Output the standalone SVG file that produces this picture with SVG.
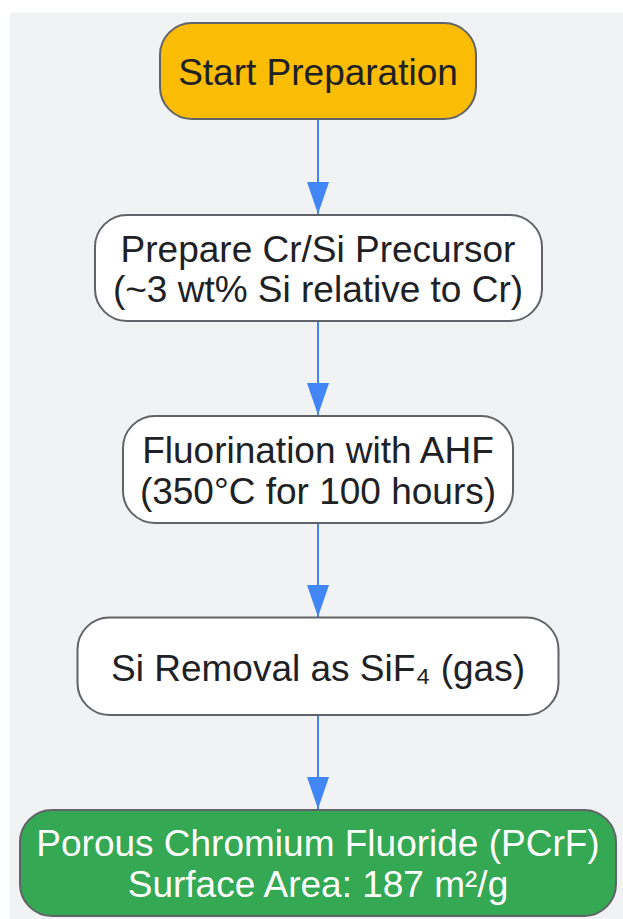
<svg xmlns="http://www.w3.org/2000/svg" width="623" height="919" viewBox="0 0 623 919">
  <style>
    .node rect { stroke: #606368; stroke-width: 2; }
    .plain rect { fill: #ffffff; }
    .lbl { font-family: "Liberation Sans", Arial, sans-serif; font-size: 37px; fill: #202124; text-anchor: middle; }
    .light { fill: #ffffff; }
    .edge { stroke: #4285F4; stroke-width: 2; fill: none; marker-end: url(#arrow); }
  </style>
  <defs>
    <marker id="arrow" viewBox="0 0 32 22" refX="32" refY="11" markerWidth="32" markerHeight="22" markerUnits="userSpaceOnUse" orient="auto">
      <path d="M0,0 L32,11 L0,22 Z" fill="#4285F4"/>
    </marker>
  </defs>
  <rect x="10" y="12.5" width="613" height="906.5" fill="#f1f2f4"/>
  <g id="connectors">
    <line class="edge" x1="318" y1="120" x2="318" y2="214"/>
    <line class="edge" x1="318" y1="322" x2="318" y2="415"/>
    <line class="edge" x1="318" y1="524" x2="318" y2="617"/>
    <line class="edge" x1="318" y1="716" x2="318" y2="809"/>
  </g>
  <g id="start" class="node">
    <rect x="160" y="23" width="316" height="96" rx="32" fill="#FBBC05"/>
    <text class="lbl" x="318" y="85">Start Preparation</text>
  </g>
  <g id="precursor" class="node plain">
    <rect x="95" y="215" width="447" height="106" rx="32"/>
    <text class="lbl" x="318" y="261.5">Prepare Cr/Si Precursor</text>
    <text class="lbl" x="318" y="302">(~3 wt% Si relative to Cr)</text>
  </g>
  <g id="fluorination" class="node plain">
    <rect x="123" y="416" width="390" height="107" rx="32"/>
    <text class="lbl" x="318" y="463">Fluorination with AHF</text>
    <text class="lbl" x="318" y="503.5">(350°C for 100 hours)</text>
  </g>
  <g id="removal" class="node plain">
    <rect x="77.5" y="617.5" width="481" height="97.5" rx="32"/>
    <text class="lbl" x="318" y="680.5">Si Removal as SiF₄ (gas)</text>
  </g>
  <g id="product" class="node">
    <rect x="20" y="810" width="596" height="106" rx="32" fill="#34A853"/>
    <text class="lbl light" x="318" y="856">Porous Chromium Fluoride (PCrF)</text>
    <text class="lbl light" x="318" y="896.5">Surface Area: 187 m²/g</text>
  </g>
</svg>
